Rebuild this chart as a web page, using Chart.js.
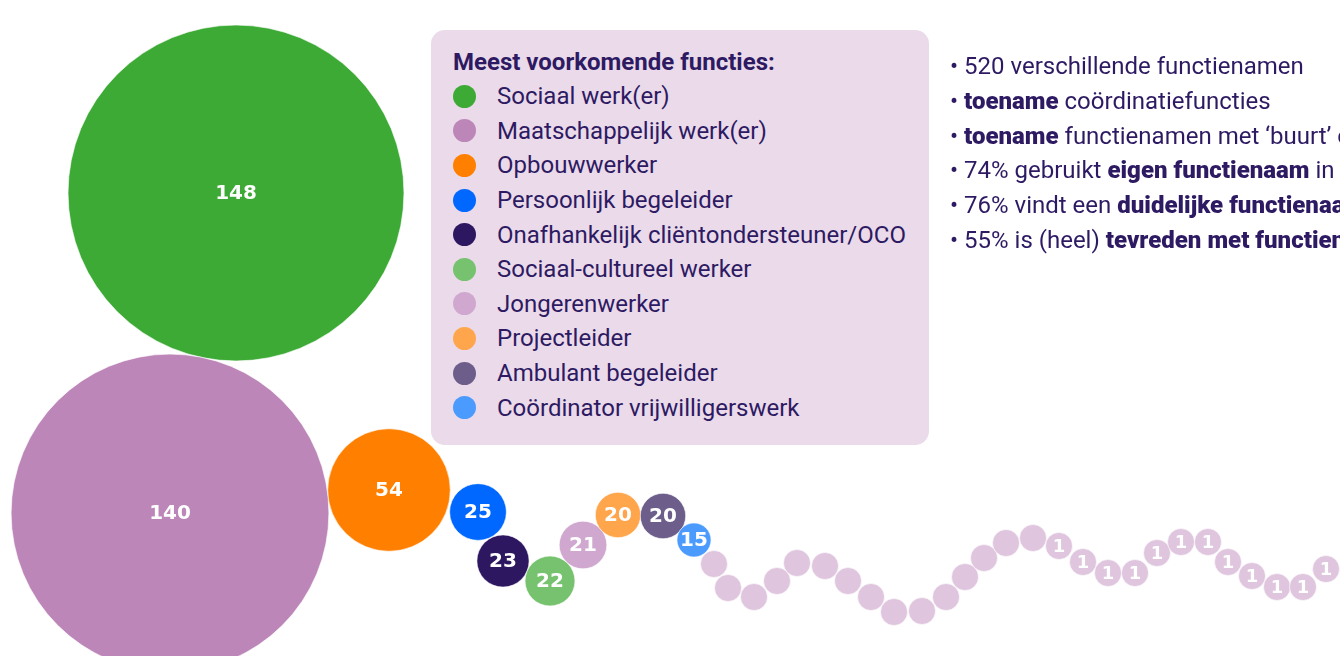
<!DOCTYPE html>
<html>
<head>
<meta charset="utf-8">
<script src="https://cdn.jsdelivr.net/npm/chart.js@4"></script>
<style>
  html, body { margin: 0; padding: 0; background: #fff; overflow: hidden; }
  #wrap { position: relative; width: 1340px; height: 656px; overflow: hidden; }
  #myChart { position: absolute; left: 0; top: 0; }
  #legendBox {
    position: absolute; left: 431px; top: 30px; width: 498px; height: 415px;
    background: #ebdaea; border-radius: 14px; box-sizing: border-box;
    padding: 17px 0 0 22px; font-family: Roboto, sans-serif; color: #2d1a63;
  }
  #legendBox h3 { margin: 0 0 2px 0; font-size: 24px; font-weight: 700; line-height: 30px; }
  .item { display: flex; align-items: center; height: 34.6px; font-size: 24px; }
  .dot { width: 23px; height: 23px; border-radius: 50%; margin: 0 21px 0 0; flex: none; }
  #facts {
    position: absolute; left: 950px; top: 49px; font-family: Roboto, sans-serif;
    color: #2d1a63; font-size: 24px; line-height: 34.8px; white-space: nowrap;
  }
  #facts b { font-weight: 900; }
</style>
</head>
<body>
<div id="wrap">
  <canvas id="myChart" width="1340" height="656"></canvas>
  <div id="legendBox"><h3>Meest voorkomende functies:</h3><div id="legendItems"></div></div>
  <div id="facts">
    <div>• 520 verschillende functienamen</div>
    <div>• <b>toename</b> coördinatiefuncties</div>
    <div>• <b>toename</b> functienamen met ‘buurt’ of ‘wijk’</div>
    <div>• 74% gebruikt <b>eigen functienaam</b> in de praktijk</div>
    <div>• 76% vindt een <b>duidelijke functienaam</b> belangrijk</div>
    <div>• 55% is (heel) <b>tevreden met functienaam</b></div>
  </div>
</div>
<script>
/* globals Chart:false */

// functies (legend) and their counts
const functies = ['Sociaal werk(er)', 'Maatschappelijk werk(er)', 'Opbouwwerker', 'Persoonlijk begeleider',
  'Onafhankelijk cliëntondersteuner/OCO', 'Sociaal-cultureel werker', 'Jongerenwerker', 'Projectleider',
  'Ambulant begeleider', 'Coördinator vrijwilligerswerk'];
const topValues = [148, 140, 54, 25, 23, 22, 21, 20, 20, 15];
const kleuren = ['#3caa35', '#bd86b9', '#ff8000', '#0068ff', '#2d1760', '#77c26f', '#d0a8cf', '#ffa64d', '#6d5d8b', '#4b9bff'];
const overigKleur = '#dfc5de';

// the tail: unlabeled small functions, then the ones with count 1
const tailValues = [null, null, null, null, null, null, null, null, null, null, null, null, null, null, null,
  1, 1, 1, 1, 1, 1, 1, 1, 1, 1, 1, 1];

// bubble placement on the (hidden) x/y axes
const bubbleX = [236, 170, 389, 478, 503, 550, 583, 618, 663, 694,
  714, 728, 754, 777, 797, 825, 848, 871, 894, 922, 946, 965, 984, 1006, 1033,
  1059, 1083, 1108, 1135, 1157, 1181, 1208, 1228, 1252, 1277, 1303, 1326];
const bubbleY = [193, 513, 490, 512, 561, 581, 545, 515, 516, 540,
  564, 588, 597, 581, 563, 566, 581, 597, 612, 611, 597, 577, 558, 543, 538,
  546, 562, 573, 573, 553, 542, 542, 562, 576, 587, 587, 569];

const allValues = topValues.concat(tailValues);
const points = allValues.map((v, i) => ({ x: bubbleX[i], y: bubbleY[i], v: v }));
const colors = allValues.map((v, i) => i < kleuren.length ? kleuren[i] : overigKleur);

// legend
const legendEl = document.getElementById('legendItems');
functies.forEach((f, i) => {
  const row = document.createElement('div');
  row.className = 'item';
  row.innerHTML = '<span class="dot" style="background:' + kleuren[i] + '"></span><span>' + f + '</span>';
  legendEl.appendChild(row);
});

const radiusOf = v => Math.max((v || 0) * 1.135, 13.5);

const bubbleLabels = {
  id: 'bubbleLabels',
  afterDatasetsDraw(chart) {
    const ctx = chart.ctx;
    const meta = chart.getDatasetMeta(0);
    ctx.save();
    ctx.fillStyle = '#ffffff';
    ctx.textAlign = 'center';
    ctx.textBaseline = 'middle';
    meta.data.forEach((el, i) => {
      const v = allValues[i];
      if (v === null) return;
      ctx.font = (v === 1 ? 'bold 18px' : 'bold 20px') + ' "DejaVu Sans", sans-serif';
      ctx.fillText(String(v), el.x, el.y + 1);
    });
    ctx.restore();
  }
};

const ctx = document.getElementById('myChart');
new Chart(ctx, {
  type: 'bubble',
  data: {
    datasets: [{
      label: 'Functies',
      data: points,
      backgroundColor: colors,
      borderColor: 'rgba(255,255,255,0.6)',
      borderWidth: 1,
      hoverBorderWidth: 1,
      radius: c => radiusOf(c.raw ? c.raw.v : null),
      hoverRadius: 0,
      clip: false
    }]
  },
  options: {
    responsive: false,
    animation: false,
    layout: { padding: 0, autoPadding: false },
    plugins: {
      legend: { display: false },
      tooltip: { enabled: false }
    },
    scales: {
      x: { type: 'linear', min: 0, max: 1340, display: false },
      y: { type: 'linear', min: 0, max: 656, reverse: true, display: false }
    }
  },
  plugins: [bubbleLabels]
});
</script>
</body>
</html>
